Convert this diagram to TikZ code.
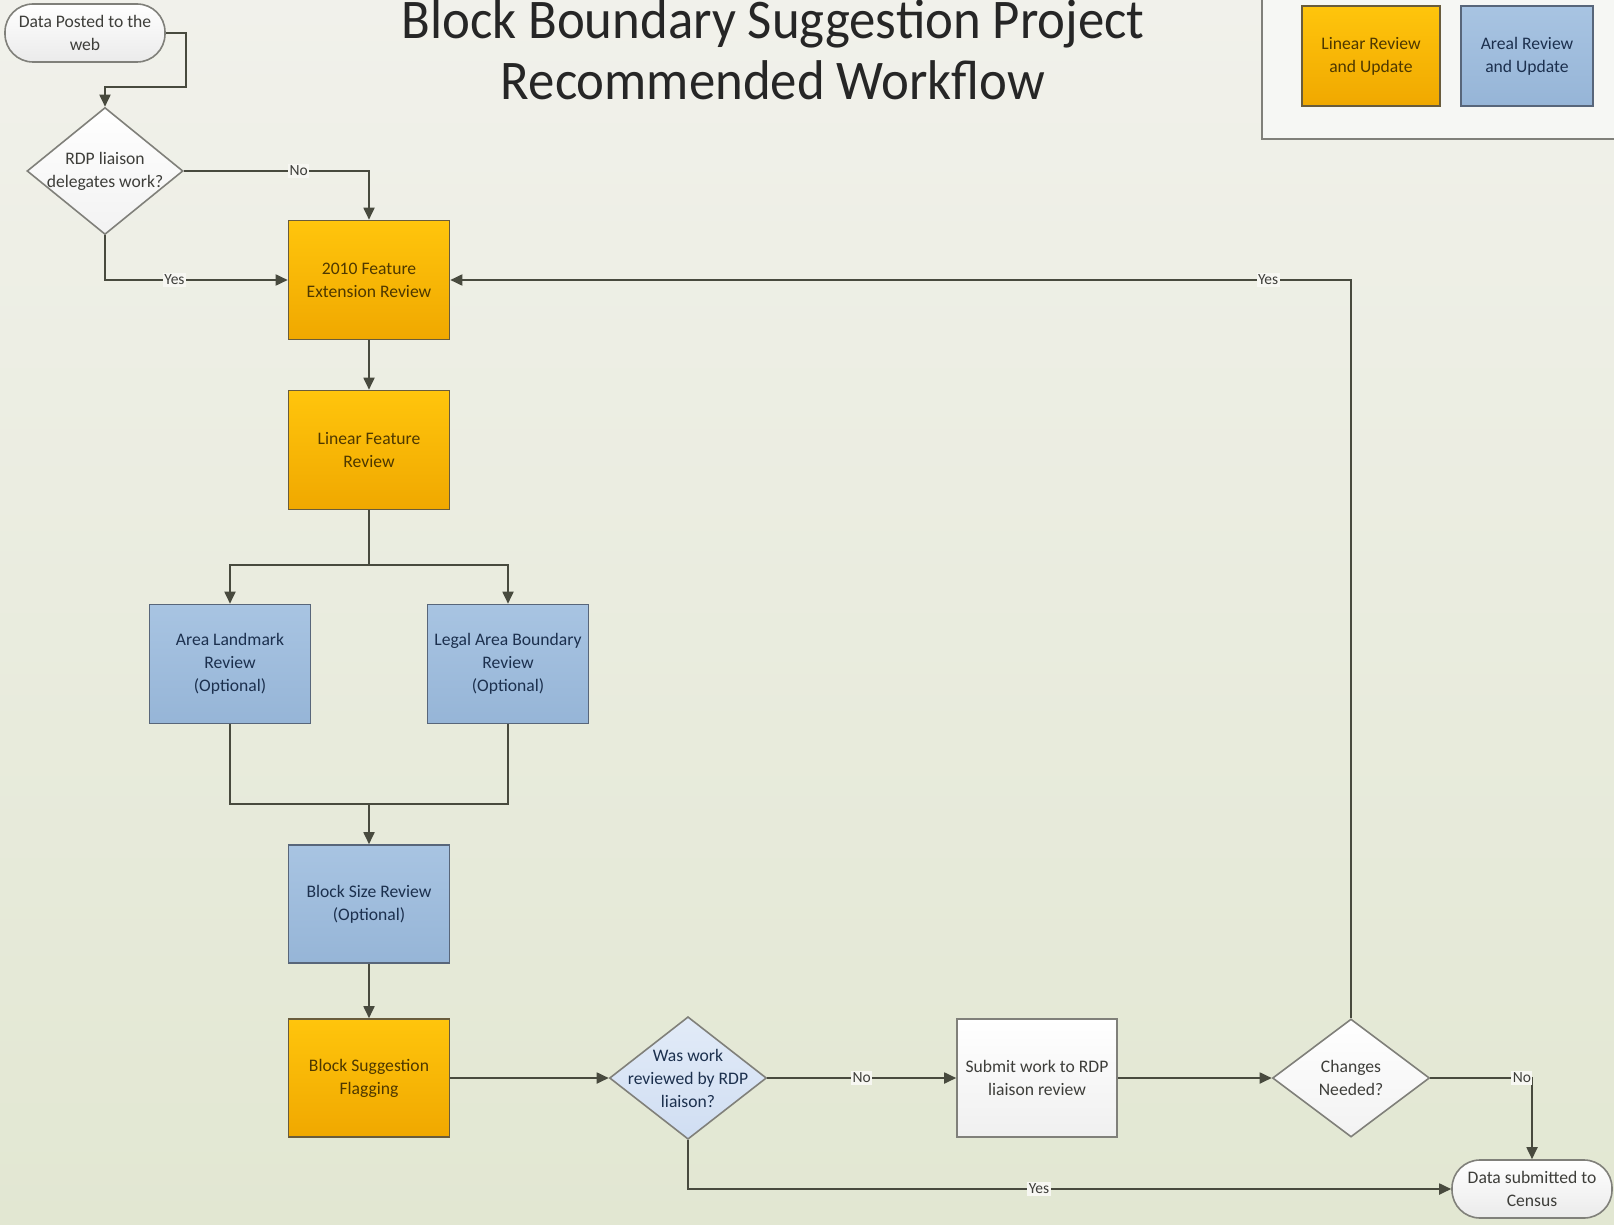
\documentclass[tikz,border=0pt]{standalone}
\usepackage{fontspec}
\setmainfont{Carlito}
\usepackage{tikz}
\usetikzlibrary{shapes.geometric}
\usetikzlibrary{arrows.meta}
\definecolor{bgtop}{RGB}{241,241,235}
\definecolor{bgbot}{RGB}{226,231,210}
\definecolor{linecol}{RGB}{72,74,62}
\definecolor{orangetop}{RGB}{255,197,12}
\definecolor{orangebot}{RGB}{240,168,0}
\definecolor{orangeline}{RGB}{105,92,60}
\definecolor{orangetext}{RGB}{78,56,0}
\definecolor{bluetop}{RGB}{168,196,226}
\definecolor{bluebot}{RGB}{150,181,215}
\definecolor{blueline}{RGB}{88,102,122}
\definecolor{bluetext}{RGB}{28,48,78}
\definecolor{greyline}{RGB}{128,128,122}
\definecolor{greytext}{RGB}{62,62,58}
\definecolor{paledia}{RGB}{226,235,248}
\definecolor{paledialow}{RGB}{208,222,242}
\definecolor{labelbg}{RGB}{247,247,242}
\definecolor{legendfill}{RGB}{246,247,244}
\tikzset{>={Triangle[length=12pt,width=11pt]}}
\tikzset{
  linearbox/.style={draw=orangeline, line width=1.6pt, top color=orangetop, bottom color=orangebot, text=orangetext, minimum width=161pt, minimum height=119pt},
  arealbox/.style={draw=blueline, line width=1.6pt, top color=bluetop, bottom color=bluebot, text=bluetext, minimum width=161pt, minimum height=119pt},
  plainbox/.style={draw=greyline, line width=1.6pt, top color=white, bottom color=white!94!black, text=greytext, minimum width=160pt, minimum height=118pt},
  terminal/.style={draw=greyline, line width=1.6pt, top color=white, bottom color=white!92!black, text=greytext, rounded corners=28pt, minimum width=160pt, minimum height=58pt},
  decision/.style={diamond, draw=greyline, line width=1.6pt, inner sep=-14pt, top color=white, bottom color=white!95!black, text=greytext, minimum width=157pt, minimum height=118pt},
  flow/.style={draw=linecol, line width=1.8pt, ->},
  flowline/.style={draw=linecol, line width=1.8pt},
  flowlabel/.style={fill=labelbg, inner sep=1.5pt, text=greytext, font=\fontsize{15.5}{18}\selectfont},
  titletext/.style={anchor=base, text=black!85, font=\fontsize{52.8}{60}\selectfont}
}

\begin{document}
\begin{tikzpicture}[x=1pt, y=-1pt, every node/.style={font=\fontsize{17.6}{23}\selectfont, align=center}]
  \useasboundingbox (0,0) rectangle (1614,1225);
  \clip (0,0) rectangle (1614,1225);
  \shade[top color=bgtop, bottom color=bgbot] (0,0) rectangle (1614,1225);

  % title and legend
  \node[titletext] at (773,39) (title1) {\scalebox{1}[1.06]{Block Boundary Suggestion Project}};
  \node[titletext] at (773,100) (title2) {\scalebox{1}[1.06]{Recommended Workflow}};
  \draw[draw=greyline, line width=2pt, fill=legendfill] (1262,-20) rectangle (1650,139);
  \node[linearbox, minimum width=138pt, minimum height=100pt] at (1371,56) (leglinear) {Linear Review\\and Update};
  \node[arealbox, minimum width=132pt, minimum height=100pt] at (1527,56) (legareal) {Areal Review\\and Update};

  % shapes
  \node[terminal] at (85,33) (start) {Data Posted to the\\web};
  \node[decision, minimum width=156pt, minimum height=127pt] at (105,171) (d1) {RDP liaison\\delegates work?};
  \node[linearbox] at (369,280) (fer) {2010 Feature\\Extension Review};
  \node[linearbox] at (369,450) (lfr) {Linear Feature\\Review};
  \node[arealbox] at (230,664) (alr) {Area Landmark\\Review\\(Optional)};
  \node[arealbox] at (508,664) (lab) {Legal Area Boundary\\Review\\(Optional)};
  \coordinate (merge) at (369,804);
  \node[arealbox, minimum height=118pt] at (369,904) (bsr) {Block Size Review\\(Optional)};
  \node[linearbox, minimum height=118pt] at (369,1078) (bsf) {Block Suggestion\\Flagging};
  \node[decision, top color=paledia, bottom color=paledialow, text=bluetext] at (688,1078) (d2) {Was work\\reviewed by RDP\\liaison?};
  \node[plainbox] at (1037,1078) (sub) {Submit work to RDP\\liaison review};
  \node[decision] at (1351,1078) (d3) {Changes\\Needed?};
  \node[terminal] at (1532,1189) (end) {Data submitted to\\Census};

  % connectors
  \draw[flow] (start.east) -- ++(20,0) -- ++(0,54) -| (d1.north);
  \draw[flow] (d1.east) -| node[flowlabel, pos=0.31] (no1) {No} (fer.north);
  \draw[flow] (d1.south) |- node[flowlabel, pos=0.69] (yes1) {Yes} (fer.west);
  \draw[flow] (fer) -- (lfr);
  \draw[flow] (lfr.south) -- ++(0,55) -| (alr.north);
  \draw[flow] (lfr.south) -- ++(0,55) -| (lab.north);
  \draw[flowline] (alr.south) |- (merge);
  \draw[flowline] (lab.south) |- (merge);
  \draw[flow] (merge) -- (bsr);
  \draw[flow] (bsr) -- (bsf);
  \draw[flow] (bsf) -- (d2);
  \draw[flow] (d2) -- node[flowlabel] (no2) {No} (sub);
  \draw[flow] (sub) -- (d3);
  \draw[flow] (d3.east) -| node[flowlabel, pos=0.45] (no3) {No} (end.north);
  \draw[flow] (d3.north) |- node[flowlabel, pos=0.546] (yes2) {Yes} (fer.east);
  \draw[flow] (d2.south) |- node[flowlabel, pos=0.73] (yes3) {Yes} (end.west);
\end{tikzpicture}
\end{document}
